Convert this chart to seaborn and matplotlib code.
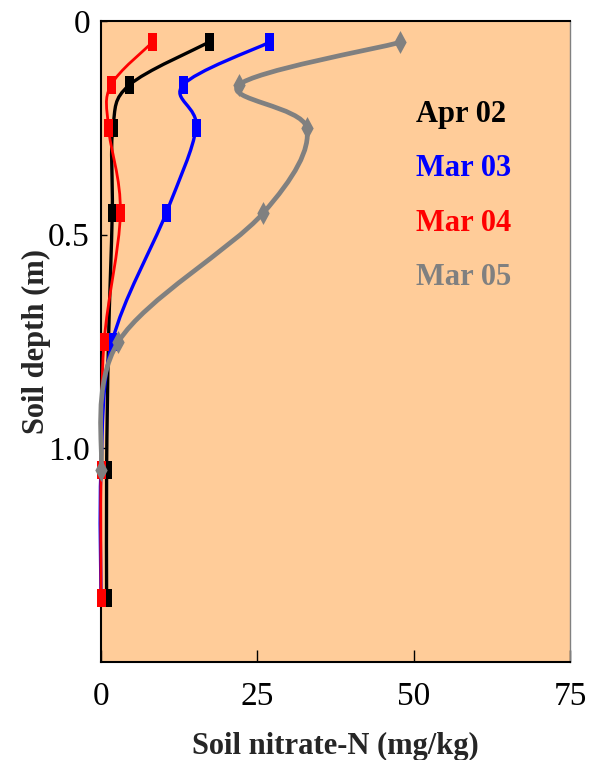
import numpy as np
import matplotlib
matplotlib.use("Agg")
import matplotlib.pyplot as plt
from matplotlib.path import Path
from matplotlib.patches import PathPatch
import seaborn as sns

# soil nitrate profiles
depth = [0.05, 0.15, 0.25, 0.45, 0.75, 1.05, 1.35]
apr02 = [17.2, 4.5, 1.9, 1.8, 1.2, 0.9, 0.9]
mar03 = [26.9, 13.1, 15.2, 10.4, 1.8, 0.0, 0.0]
mar04 = [8.2, 1.6, 1.2, 3.1, 0.5, 0.0, 0.0]
mar05 = [47.8, 22.0, 32.9, 25.9, 2.8, 0.0]  # no sample at 1.35 m

labels = ["Apr 02", "Mar 03", "Mar 04", "Mar 05"]
colors = ["#000000", "#0000FF", "#FF0000", "#808080"]
x_ticks = [0, 25, 50, 75]
y_ticks = [0, 0.5, 1.0]
y_ticklabels = ["0", "0.5", "1.0"]

sns.set_theme(style="ticks")
plt.rcParams["font.family"] = ["Liberation Serif", "DejaVu Serif"]


def smooth_path(xs, ys):
    # excel-style smoothed line: cubic bezier through every point
    pts = np.column_stack([xs, ys]).astype(float)
    n = len(pts)
    verts = [pts[0]]
    codes = [Path.MOVETO]
    for i in range(n - 1):
        p0 = pts[max(i - 1, 0)]
        p1, p2 = pts[i], pts[i + 1]
        p3 = pts[min(i + 2, n - 1)]
        verts += [p1 + (p2 - p0) / 6, p2 - (p3 - p1) / 6, p2]
        codes += [Path.CURVE4] * 3
    return Path(verts, codes)


rect = Path([(-0.24, -0.5), (0.24, -0.5), (0.24, 0.5), (-0.24, 0.5), (-0.24, -0.5)],
            [Path.MOVETO, Path.LINETO, Path.LINETO, Path.LINETO, Path.CLOSEPOLY])
diamond = Path([(0, -0.5), (0.27, 0), (0, 0.5), (-0.27, 0), (0, -0.5)],
               [Path.MOVETO, Path.LINETO, Path.LINETO, Path.LINETO, Path.CLOSEPOLY])

fig = plt.figure(figsize=(5.93, 7.6), dpi=100)
ax = fig.add_axes([0.1703, 0.1289, 0.7909, 0.8434])
ax.set_facecolor("#FFCC99")

series = [apr02, mar03, mar04, mar05]
widths = [2.4, 2.4, 2.0, 3.4]
markers = [rect, rect, rect, diamond]
msizes = [13.5, 13.5, 13.5, 16.5]

for k, (vals, col) in enumerate(zip(series, colors)):
    d = depth[:len(vals)]
    ax.add_patch(PathPatch(smooth_path(vals, d), facecolor="none", edgecolor=col,
                           lw=widths[k], zorder=2 + k, clip_on=False,
                           capstyle="round", joinstyle="round"))
    sns.scatterplot(x=vals, y=d, ax=ax, marker=markers[k], s=msizes[k] ** 2,
                    color=col, linewidth=0, clip_on=False, zorder=2.5 + k)

ax.set_xlim(0, 75)
ax.set_ylim(1.5, 0)
ax.set_xticks(x_ticks)
ax.set_xticklabels([str(t) for t in x_ticks])
ax.set_yticks(y_ticks)
ax.set_yticklabels(y_ticklabels)
ax.tick_params(axis="x", direction="in", length=9, width=1, pad=14,
               labelsize=24, colors="black")
ax.tick_params(axis="y", direction="in", length=4.5, width=1, pad=8,
               labelsize=24, colors="black")

for side in ["left", "bottom", "top"]:
    ax.spines[side].set_color("black")
    ax.spines[side].set_linewidth(1.5)
ax.spines["right"].set_color("#808080")
ax.spines["right"].set_linewidth(1)

ax.set_xlabel("Soil nitrate-N (mg/kg)", fontsize=22, fontweight="bold", labelpad=14)
ax.set_ylabel("Soil depth (m)", fontsize=22, fontweight="bold", labelpad=-2)

# colored series names instead of a legend box
label_y = [0.842, 0.759, 0.673, 0.588]
for name, col, yy in zip(labels, colors, label_y):
    ax.text(0.672, yy, name, transform=ax.transAxes, color=col, fontsize=22,
            fontweight="bold", ha="left", va="baseline")

fig.savefig("out.png", dpi=100, facecolor="white")
